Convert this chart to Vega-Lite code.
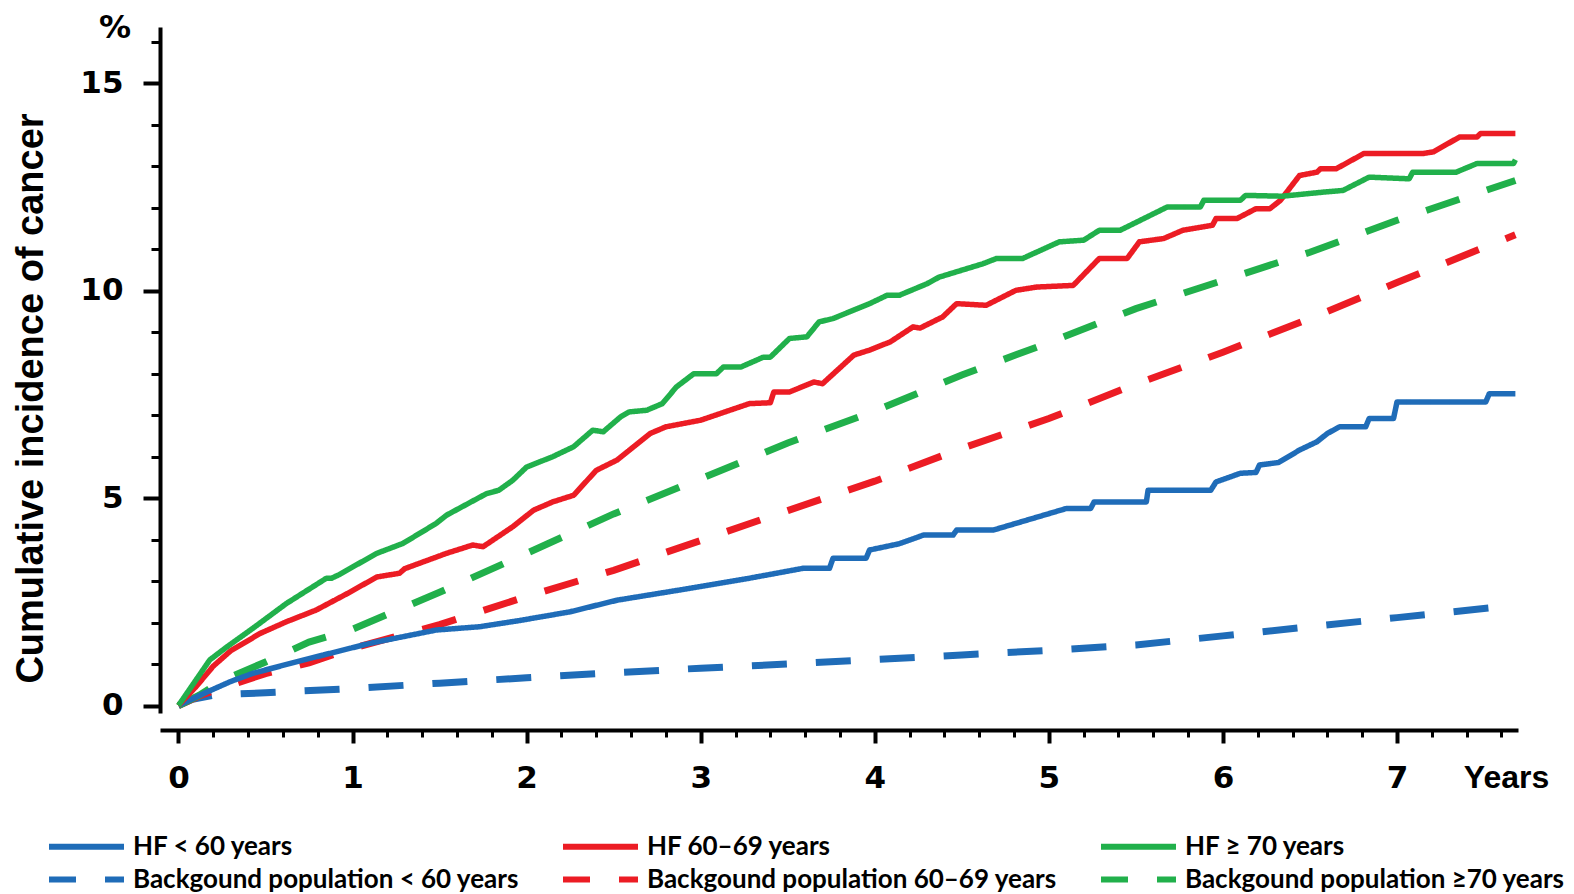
{
  "$schema": "https://vega.github.io/schema/vega-lite/v6.json",
  "width": 1358,
  "height": 686,
  "autosize": {"type": "none"},
  "padding": {"left": 160, "top": 27, "right": 56, "bottom": 181},
  "background": "white",
  "config": {"view": {"stroke": null}, "axis": {"grid": false}},
  "title": {
    "text": "%",
    "anchor": "start",
    "frame": "group",
    "orient": "top",
    "font": "DejaVu Sans",
    "fontWeight": "bold",
    "fontSize": 32,
    "color": "black",
    "baseline": "alphabetic",
    "offset": 0,
    "dx": -61,
    "dy": 44
  },
  "data": {
    "values": [
      {"s": "HF < 60 years", "t": 0, "v": 0},
      {"s": "HF < 60 years", "t": 0.15, "v": 0.3},
      {"s": "HF < 60 years", "t": 0.3, "v": 0.58},
      {"s": "HF < 60 years", "t": 0.43, "v": 0.78},
      {"s": "HF < 60 years", "t": 0.72, "v": 1.1},
      {"s": "HF < 60 years", "t": 1.1, "v": 1.5},
      {"s": "HF < 60 years", "t": 1.48, "v": 1.82},
      {"s": "HF < 60 years", "t": 1.73, "v": 1.9},
      {"s": "HF < 60 years", "t": 1.96, "v": 2.05},
      {"s": "HF < 60 years", "t": 2.25, "v": 2.26},
      {"s": "HF < 60 years", "t": 2.52, "v": 2.54},
      {"s": "HF < 60 years", "t": 2.9, "v": 2.8},
      {"s": "HF < 60 years", "t": 3.28, "v": 3.07},
      {"s": "HF < 60 years", "t": 3.59, "v": 3.31},
      {"s": "HF < 60 years", "t": 3.74, "v": 3.31},
      {"s": "HF < 60 years", "t": 3.76, "v": 3.55},
      {"s": "HF < 60 years", "t": 3.95, "v": 3.55},
      {"s": "HF < 60 years", "t": 3.97, "v": 3.75},
      {"s": "HF < 60 years", "t": 4.14, "v": 3.9},
      {"s": "HF < 60 years", "t": 4.28, "v": 4.11},
      {"s": "HF < 60 years", "t": 4.45, "v": 4.11},
      {"s": "HF < 60 years", "t": 4.47, "v": 4.23},
      {"s": "HF < 60 years", "t": 4.68, "v": 4.23},
      {"s": "HF < 60 years", "t": 5.1, "v": 4.75},
      {"s": "HF < 60 years", "t": 5.24, "v": 4.75},
      {"s": "HF < 60 years", "t": 5.26, "v": 4.91},
      {"s": "HF < 60 years", "t": 5.56, "v": 4.91},
      {"s": "HF < 60 years", "t": 5.57, "v": 5.19},
      {"s": "HF < 60 years", "t": 5.93, "v": 5.19},
      {"s": "HF < 60 years", "t": 5.96, "v": 5.39},
      {"s": "HF < 60 years", "t": 6.1, "v": 5.6},
      {"s": "HF < 60 years", "t": 6.19, "v": 5.62},
      {"s": "HF < 60 years", "t": 6.21, "v": 5.8},
      {"s": "HF < 60 years", "t": 6.32, "v": 5.86},
      {"s": "HF < 60 years", "t": 6.44, "v": 6.16},
      {"s": "HF < 60 years", "t": 6.54, "v": 6.36},
      {"s": "HF < 60 years", "t": 6.6, "v": 6.56},
      {"s": "HF < 60 years", "t": 6.67, "v": 6.72},
      {"s": "HF < 60 years", "t": 6.82, "v": 6.72},
      {"s": "HF < 60 years", "t": 6.84, "v": 6.92},
      {"s": "HF < 60 years", "t": 6.98, "v": 6.92},
      {"s": "HF < 60 years", "t": 7.0, "v": 7.32},
      {"s": "HF < 60 years", "t": 7.51, "v": 7.32},
      {"s": "HF < 60 years", "t": 7.53, "v": 7.52},
      {"s": "HF < 60 years", "t": 7.68, "v": 7.52},

      {"s": "HF 60–69 years", "t": 0, "v": 0},
      {"s": "HF 60–69 years", "t": 0.1, "v": 0.45},
      {"s": "HF 60–69 years", "t": 0.2, "v": 0.95},
      {"s": "HF 60–69 years", "t": 0.3, "v": 1.32},
      {"s": "HF 60–69 years", "t": 0.47, "v": 1.74},
      {"s": "HF 60–69 years", "t": 0.62, "v": 2.02},
      {"s": "HF 60–69 years", "t": 0.79, "v": 2.3},
      {"s": "HF 60–69 years", "t": 0.97, "v": 2.7},
      {"s": "HF 60–69 years", "t": 1.14, "v": 3.1},
      {"s": "HF 60–69 years", "t": 1.27, "v": 3.19},
      {"s": "HF 60–69 years", "t": 1.3, "v": 3.3},
      {"s": "HF 60–69 years", "t": 1.54, "v": 3.67},
      {"s": "HF 60–69 years", "t": 1.69, "v": 3.87},
      {"s": "HF 60–69 years", "t": 1.75, "v": 3.83},
      {"s": "HF 60–69 years", "t": 1.92, "v": 4.31},
      {"s": "HF 60–69 years", "t": 2.04, "v": 4.71},
      {"s": "HF 60–69 years", "t": 2.15, "v": 4.91},
      {"s": "HF 60–69 years", "t": 2.27, "v": 5.07},
      {"s": "HF 60–69 years", "t": 2.4, "v": 5.67},
      {"s": "HF 60–69 years", "t": 2.52, "v": 5.92},
      {"s": "HF 60–69 years", "t": 2.71, "v": 6.56},
      {"s": "HF 60–69 years", "t": 2.8, "v": 6.72},
      {"s": "HF 60–69 years", "t": 3.0, "v": 6.88},
      {"s": "HF 60–69 years", "t": 3.28, "v": 7.28},
      {"s": "HF 60–69 years", "t": 3.4, "v": 7.3},
      {"s": "HF 60–69 years", "t": 3.42, "v": 7.56},
      {"s": "HF 60–69 years", "t": 3.51, "v": 7.56},
      {"s": "HF 60–69 years", "t": 3.65, "v": 7.8},
      {"s": "HF 60–69 years", "t": 3.7, "v": 7.76},
      {"s": "HF 60–69 years", "t": 3.88, "v": 8.45},
      {"s": "HF 60–69 years", "t": 3.97, "v": 8.57},
      {"s": "HF 60–69 years", "t": 4.09, "v": 8.77},
      {"s": "HF 60–69 years", "t": 4.22, "v": 9.13},
      {"s": "HF 60–69 years", "t": 4.26, "v": 9.1},
      {"s": "HF 60–69 years", "t": 4.39, "v": 9.37},
      {"s": "HF 60–69 years", "t": 4.47, "v": 9.69},
      {"s": "HF 60–69 years", "t": 4.64, "v": 9.65},
      {"s": "HF 60–69 years", "t": 4.81, "v": 10.01},
      {"s": "HF 60–69 years", "t": 4.93, "v": 10.09},
      {"s": "HF 60–69 years", "t": 5.14, "v": 10.13},
      {"s": "HF 60–69 years", "t": 5.29, "v": 10.78},
      {"s": "HF 60–69 years", "t": 5.45, "v": 10.78},
      {"s": "HF 60–69 years", "t": 5.52, "v": 11.18},
      {"s": "HF 60–69 years", "t": 5.66, "v": 11.26},
      {"s": "HF 60–69 years", "t": 5.77, "v": 11.46},
      {"s": "HF 60–69 years", "t": 5.94, "v": 11.58},
      {"s": "HF 60–69 years", "t": 5.96, "v": 11.74},
      {"s": "HF 60–69 years", "t": 6.08, "v": 11.74},
      {"s": "HF 60–69 years", "t": 6.19, "v": 11.98},
      {"s": "HF 60–69 years", "t": 6.27, "v": 11.98},
      {"s": "HF 60–69 years", "t": 6.33, "v": 12.18},
      {"s": "HF 60–69 years", "t": 6.44, "v": 12.78},
      {"s": "HF 60–69 years", "t": 6.54, "v": 12.86},
      {"s": "HF 60–69 years", "t": 6.56, "v": 12.94},
      {"s": "HF 60–69 years", "t": 6.65, "v": 12.94},
      {"s": "HF 60–69 years", "t": 6.81, "v": 13.31},
      {"s": "HF 60–69 years", "t": 7.15, "v": 13.31},
      {"s": "HF 60–69 years", "t": 7.21, "v": 13.35},
      {"s": "HF 60–69 years", "t": 7.36, "v": 13.71},
      {"s": "HF 60–69 years", "t": 7.46, "v": 13.71},
      {"s": "HF 60–69 years", "t": 7.48, "v": 13.79},
      {"s": "HF 60–69 years", "t": 7.68, "v": 13.79},

      {"s": "HF ≥ 70 years", "t": 0, "v": 0},
      {"s": "HF ≥ 70 years", "t": 0.18, "v": 1.1},
      {"s": "HF ≥ 70 years", "t": 0.28, "v": 1.42},
      {"s": "HF ≥ 70 years", "t": 0.43, "v": 1.87},
      {"s": "HF ≥ 70 years", "t": 0.62, "v": 2.46},
      {"s": "HF ≥ 70 years", "t": 0.85, "v": 3.07},
      {"s": "HF ≥ 70 years", "t": 0.88, "v": 3.07},
      {"s": "HF ≥ 70 years", "t": 0.92, "v": 3.15},
      {"s": "HF ≥ 70 years", "t": 1.14, "v": 3.67},
      {"s": "HF ≥ 70 years", "t": 1.29, "v": 3.91},
      {"s": "HF ≥ 70 years", "t": 1.48, "v": 4.39},
      {"s": "HF ≥ 70 years", "t": 1.54, "v": 4.59},
      {"s": "HF ≥ 70 years", "t": 1.77, "v": 5.11},
      {"s": "HF ≥ 70 years", "t": 1.84, "v": 5.19},
      {"s": "HF ≥ 70 years", "t": 1.92, "v": 5.43},
      {"s": "HF ≥ 70 years", "t": 2.0, "v": 5.75},
      {"s": "HF ≥ 70 years", "t": 2.15, "v": 6.0},
      {"s": "HF ≥ 70 years", "t": 2.27, "v": 6.24},
      {"s": "HF ≥ 70 years", "t": 2.38, "v": 6.64},
      {"s": "HF ≥ 70 years", "t": 2.44, "v": 6.6},
      {"s": "HF ≥ 70 years", "t": 2.54, "v": 6.96},
      {"s": "HF ≥ 70 years", "t": 2.59, "v": 7.08},
      {"s": "HF ≥ 70 years", "t": 2.69, "v": 7.12},
      {"s": "HF ≥ 70 years", "t": 2.78, "v": 7.28},
      {"s": "HF ≥ 70 years", "t": 2.86, "v": 7.68},
      {"s": "HF ≥ 70 years", "t": 2.96, "v": 8.0},
      {"s": "HF ≥ 70 years", "t": 3.09, "v": 8.0},
      {"s": "HF ≥ 70 years", "t": 3.13, "v": 8.16},
      {"s": "HF ≥ 70 years", "t": 3.23, "v": 8.16},
      {"s": "HF ≥ 70 years", "t": 3.36, "v": 8.4},
      {"s": "HF ≥ 70 years", "t": 3.4, "v": 8.4},
      {"s": "HF ≥ 70 years", "t": 3.51, "v": 8.85},
      {"s": "HF ≥ 70 years", "t": 3.61, "v": 8.89},
      {"s": "HF ≥ 70 years", "t": 3.68, "v": 9.25},
      {"s": "HF ≥ 70 years", "t": 3.76, "v": 9.33},
      {"s": "HF ≥ 70 years", "t": 3.97, "v": 9.69},
      {"s": "HF ≥ 70 years", "t": 4.07, "v": 9.89},
      {"s": "HF ≥ 70 years", "t": 4.14, "v": 9.89},
      {"s": "HF ≥ 70 years", "t": 4.3, "v": 10.17},
      {"s": "HF ≥ 70 years", "t": 4.37, "v": 10.33},
      {"s": "HF ≥ 70 years", "t": 4.62, "v": 10.65},
      {"s": "HF ≥ 70 years", "t": 4.7, "v": 10.78},
      {"s": "HF ≥ 70 years", "t": 4.85, "v": 10.78},
      {"s": "HF ≥ 70 years", "t": 5.06, "v": 11.18},
      {"s": "HF ≥ 70 years", "t": 5.2, "v": 11.22},
      {"s": "HF ≥ 70 years", "t": 5.29, "v": 11.46},
      {"s": "HF ≥ 70 years", "t": 5.41, "v": 11.46},
      {"s": "HF ≥ 70 years", "t": 5.68, "v": 12.02},
      {"s": "HF ≥ 70 years", "t": 5.87, "v": 12.02},
      {"s": "HF ≥ 70 years", "t": 5.89, "v": 12.18},
      {"s": "HF ≥ 70 years", "t": 6.1, "v": 12.18},
      {"s": "HF ≥ 70 years", "t": 6.13, "v": 12.3},
      {"s": "HF ≥ 70 years", "t": 6.34, "v": 12.28},
      {"s": "HF ≥ 70 years", "t": 6.58, "v": 12.38},
      {"s": "HF ≥ 70 years", "t": 6.69, "v": 12.42},
      {"s": "HF ≥ 70 years", "t": 6.84, "v": 12.74},
      {"s": "HF ≥ 70 years", "t": 7.07, "v": 12.7},
      {"s": "HF ≥ 70 years", "t": 7.09, "v": 12.86},
      {"s": "HF ≥ 70 years", "t": 7.34, "v": 12.86},
      {"s": "HF ≥ 70 years", "t": 7.46, "v": 13.07},
      {"s": "HF ≥ 70 years", "t": 7.67, "v": 13.07},
      {"s": "HF ≥ 70 years", "t": 7.68, "v": 13.16},

      {"s": "Backgound population < 60 years", "t": 0, "v": 0},
      {"s": "Backgound population < 60 years", "t": 0.08, "v": 0.15},
      {"s": "Backgound population < 60 years", "t": 0.2, "v": 0.25},
      {"s": "Backgound population < 60 years", "t": 0.5, "v": 0.31},
      {"s": "Backgound population < 60 years", "t": 1, "v": 0.41},
      {"s": "Backgound population < 60 years", "t": 1.5, "v": 0.54},
      {"s": "Backgound population < 60 years", "t": 2, "v": 0.67},
      {"s": "Backgound population < 60 years", "t": 2.5, "v": 0.79},
      {"s": "Backgound population < 60 years", "t": 3, "v": 0.9},
      {"s": "Backgound population < 60 years", "t": 3.5, "v": 1.0},
      {"s": "Backgound population < 60 years", "t": 4, "v": 1.11},
      {"s": "Backgound population < 60 years", "t": 4.5, "v": 1.22},
      {"s": "Backgound population < 60 years", "t": 5, "v": 1.33},
      {"s": "Backgound population < 60 years", "t": 5.5, "v": 1.46},
      {"s": "Backgound population < 60 years", "t": 6, "v": 1.68},
      {"s": "Backgound population < 60 years", "t": 6.5, "v": 1.9},
      {"s": "Backgound population < 60 years", "t": 7, "v": 2.12},
      {"s": "Backgound population < 60 years", "t": 7.68, "v": 2.42},

      {"s": "Backgound population 60–69 years", "t": 0, "v": 0},
      {"s": "Backgound population 60–69 years", "t": 0.13, "v": 0.25},
      {"s": "Backgound population 60–69 years", "t": 0.25, "v": 0.42},
      {"s": "Backgound population 60–69 years", "t": 0.5, "v": 0.77},
      {"s": "Backgound population 60–69 years", "t": 0.75, "v": 1.03},
      {"s": "Backgound population 60–69 years", "t": 1, "v": 1.38},
      {"s": "Backgound population 60–69 years", "t": 1.5, "v": 1.95},
      {"s": "Backgound population 60–69 years", "t": 2, "v": 2.63},
      {"s": "Backgound population 60–69 years", "t": 2.5, "v": 3.26},
      {"s": "Backgound population 60–69 years", "t": 3, "v": 3.98},
      {"s": "Backgound population 60–69 years", "t": 3.5, "v": 4.7},
      {"s": "Backgound population 60–69 years", "t": 4, "v": 5.41},
      {"s": "Backgound population 60–69 years", "t": 4.5, "v": 6.2},
      {"s": "Backgound population 60–69 years", "t": 5, "v": 6.92},
      {"s": "Backgound population 60–69 years", "t": 5.5, "v": 7.75},
      {"s": "Backgound population 60–69 years", "t": 6, "v": 8.52},
      {"s": "Backgound population 60–69 years", "t": 6.5, "v": 9.33},
      {"s": "Backgound population 60–69 years", "t": 7, "v": 10.2},
      {"s": "Backgound population 60–69 years", "t": 7.68, "v": 11.35},

      {"s": "Backgound population ≥70 years", "t": 0, "v": 0},
      {"s": "Backgound population ≥70 years", "t": 0.12, "v": 0.25},
      {"s": "Backgound population ≥70 years", "t": 0.25, "v": 0.6},
      {"s": "Backgound population ≥70 years", "t": 0.5, "v": 1.05},
      {"s": "Backgound population ≥70 years", "t": 0.75, "v": 1.53},
      {"s": "Backgound population ≥70 years", "t": 1, "v": 1.84},
      {"s": "Backgound population ≥70 years", "t": 1.5, "v": 2.73},
      {"s": "Backgound population ≥70 years", "t": 2, "v": 3.67},
      {"s": "Backgound population ≥70 years", "t": 2.5, "v": 4.62},
      {"s": "Backgound population ≥70 years", "t": 3, "v": 5.47},
      {"s": "Backgound population ≥70 years", "t": 3.5, "v": 6.33},
      {"s": "Backgound population ≥70 years", "t": 4, "v": 7.1},
      {"s": "Backgound population ≥70 years", "t": 4.5, "v": 7.97},
      {"s": "Backgound population ≥70 years", "t": 5, "v": 8.75},
      {"s": "Backgound population ≥70 years", "t": 5.5, "v": 9.57},
      {"s": "Backgound population ≥70 years", "t": 6, "v": 10.25},
      {"s": "Backgound population ≥70 years", "t": 6.5, "v": 10.93},
      {"s": "Backgound population ≥70 years", "t": 7, "v": 11.7},
      {"s": "Backgound population ≥70 years", "t": 7.68, "v": 12.66}
    ]
  },
  "encoding": {
    "x": {
      "field": "t",
      "type": "quantitative",
      "scale": {"domain": [-0.106, 7.695], "nice": false, "zero": false},
      "axis": {
        "values": [0, 0.2, 0.4, 0.6, 0.8, 1, 1.2, 1.4, 1.6, 1.8, 2, 2.2, 2.4, 2.6, 2.8, 3, 3.2, 3.4, 3.6, 3.8, 4, 4.2, 4.4, 4.6, 4.8, 5, 5.2, 5.4, 5.6, 5.8, 6, 6.2, 6.4, 6.6, 6.8, 7, 7.2, 7.4, 7.6],
        "labelExpr": "abs(datum.value - round(datum.value)) < 0.001 ? format(round(datum.value), 'd') : ''",
        "offset": 17,
        "domainColor": "black",
        "domainWidth": 4,
        "tickColor": "black",
        "tickSize": {"condition": {"test": "abs(datum.value - round(datum.value)) < 0.001", "value": 13}, "value": 7},
        "tickWidth": {"condition": {"test": "abs(datum.value - round(datum.value)) < 0.001", "value": 4}, "value": 3},
        "labelFont": "DejaVu Sans",
        "labelFontWeight": "bold",
        "labelFontSize": 31,
        "labelColor": "black",
        "labelBaseline": "alphabetic",
        "labelPadding": 44,
        "labelFlush": false,
        "labelOverlap": false,
        "title": "Years",
        "titleFont": "Liberation Sans",
        "titleFontWeight": "bold",
        "titleFontSize": 32,
        "titleColor": "black",
        "titleAlign": "center",
        "titleBaseline": "alphabetic",
        "titleX": 1346,
        "titleY": 57
      }
    },
    "y": {
      "field": "v",
      "type": "quantitative",
      "scale": {"domain": [-0.18, 16.36], "nice": false, "zero": false},
      "axis": {
        "values": [0, 1, 2, 3, 4, 5, 6, 7, 8, 9, 10, 11, 12, 13, 14, 15, 16],
        "labelExpr": "datum.value % 5 === 0 ? datum.label : ''",
        "domainColor": "black",
        "domainWidth": 4,
        "tickColor": "black",
        "tickSize": {"condition": {"test": "datum.value % 5 === 0", "value": 17}, "value": 9},
        "tickWidth": {"condition": {"test": "datum.value % 5 === 0", "value": 4}, "value": 3},
        "labelFont": "DejaVu Sans",
        "labelFontWeight": "bold",
        "labelFontSize": 31,
        "labelColor": "black",
        "labelPadding": 20,
        "labelFlush": false,
        "labelOverlap": false,
        "title": "Cumulative incidence of cancer",
        "titleFont": "Liberation Sans",
        "titleFontWeight": "bold",
        "titleFontSize": 38,
        "titleColor": "black",
        "titleAngle": -90,
        "titleAlign": "center",
        "titleBaseline": "middle",
        "titleX": -129,
        "titleY": 371
      }
    },
    "color": {
      "field": "s",
      "type": "nominal",
      "scale": {
        "domain": ["HF < 60 years", "HF 60–69 years", "HF ≥ 70 years", "Backgound population < 60 years", "Backgound population 60–69 years", "Backgound population ≥70 years"],
        "range": ["#1f6cb8", "#ec1c24", "#21b04b", "#1f6cb8", "#ec1c24", "#21b04b"]
      },
      "legend": {
        "orient": "none",
        "legendX": -89,
        "legendY": 804,
        "columns": 3,
        "direction": "horizontal",
        "title": null,
        "symbolType": "M-3,0L3,0",
        "symbolSize": 625,
        "symbolStrokeWidth": 6,
        "symbolDashOffset": 8,
        "labelFont": "Lato",
        "labelFontWeight": "bold",
        "labelFontSize": 26,
        "labelColor": "black",
        "labelLimit": 600,
        "labelOffset": 31,
        "columnPadding": 32,
        "rowPadding": 4
      }
    },
    "strokeDash": {
      "field": "s",
      "type": "nominal",
      "scale": {
        "domain": ["HF < 60 years", "HF 60–69 years", "HF ≥ 70 years", "Backgound population < 60 years", "Backgound population 60–69 years", "Backgound population ≥70 years"],
        "range": [[1, 0], [1, 0], [1, 0], [35, 29], [35, 29], [35, 29]]
      }
    }
  },
  "layer": [
    {
      "transform": [{"filter": "indexof(datum.s, 'Backgound') === 0"}],
      "mark": {"type": "line", "strokeWidth": 7, "strokeCap": "butt"}
    },
    {
      "transform": [{"filter": "indexof(datum.s, 'HF') === 0"}],
      "mark": {"type": "line", "strokeWidth": 5.5, "strokeJoin": "round"}
    }
  ]
}
